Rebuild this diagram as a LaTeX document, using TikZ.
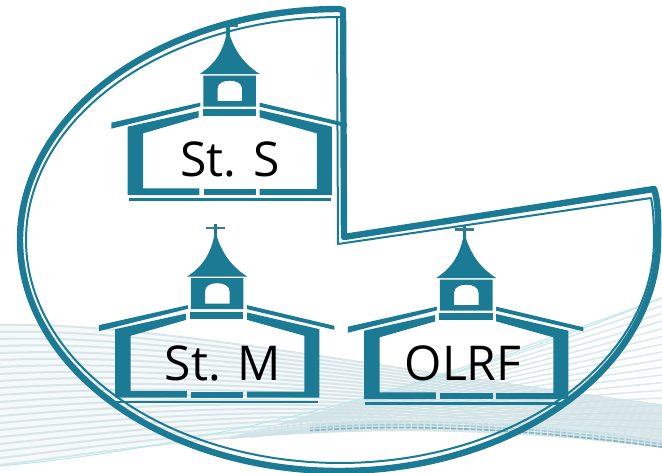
\documentclass[tikz,border=0pt]{standalone}
\usepackage{fontspec}
\setmainfont{Open Sans}
\definecolor{teal1}{HTML}{1B7A94}
\definecolor{wavepale}{HTML}{D8E6E9}
\definecolor{wavefill}{HTML}{F5F9F9}
\definecolor{waveb}{HTML}{D0E3E6}
\definecolor{wavecyan}{HTML}{B4EAEE}
\tikzset{
  thickline/.style={draw=teal1,line width=6.4pt,line join=round,line cap=round},
  thinline/.style={draw=teal1,line width=2pt,line join=round,line cap=round},
  wavea/.style={draw=wavepale,line width=2pt},
  wavebs/.style={draw=waveb,line width=1.5pt,opacity=.8},
  lab/.style={font=\fontsize{48}{52}\selectfont,text=black,inner sep=0pt,anchor=base}
}
\newcommand{\church}[2]{%
 \begin{scope}[shift={(#1,#2)}]
 \begin{scope}[x=.3333pt,y=-.3333pt]
  \fill[teal1] (-350,-232)--(-83,-292)--(-83,-281)--(-350,-214)--cycle;
  \fill[teal1] (-301,-220)--(-88,-267)--(-88,-248)--(-255,-200)--(-255,-35)--(-86,-35)--(-86,-15)--(-301,-15)--cycle;
  \fill[teal1] (-76,-272) rectangle (84,-252);
  \fill[teal1] (-73,-33) rectangle (84,-15);
  \fill[teal1] (95,-270)--(312,-220)--(312,-15)--(95,-15)--(95,-33)--(267,-33)--(267,-200)--(95,-248)--cycle;
  \fill[teal1] (95,-292)--(357,-230)--(357,-218)--(95,-280)--cycle;
  \fill[teal1] (-298,-5) rectangle (309,2);
  \fill[white] (-31,-297)--(-31,-335) .. controls (-31,-350) and (-15,-358) .. (5,-358) .. controls (25,-358) and (42,-350) .. (42,-335) --(42,-297)--cycle;
  \fill[teal1,even odd rule] (-74,-373) rectangle (84,-280)
     (-31,-297)--(-31,-335) .. controls (-31,-350) and (-15,-358) .. (5,-358) .. controls (25,-358) and (42,-350) .. (42,-335) --(42,-297)--cycle;
  \fill[teal1] (-85,-378) .. controls (-35,-410) and (-15,-450) .. (-5,-495) -- (5,-495)
     .. controls (20,-450) and (45,-410) .. (95,-378) --cycle;
  \fill[teal1] (-5,-535) rectangle (5,-490);
  \fill[teal1!70!gray] (-28,-527) rectangle (29,-520);
 \end{scope}
 \end{scope}}
\begin{document}
\begin{tikzpicture}[x=1pt,y=-1pt]
\useasboundingbox (0,0) rectangle (662,472);
\begin{scope}
\clip (0,0) rectangle (662,472);
\fill[wavefill] (0,325) .. controls (150,322) and (350,365) .. (662,405) -- (662,447)
   .. controls (350,408) and (120,447) .. (0,465) -- cycle;
\foreach \t in {0,0.05,...,1.01}{
  \pgfmathsetmacro{\ya}{325+140*\t}
  \pgfmathsetmacro{\yb}{322+125*\t}
  \pgfmathsetmacro{\yc}{365+43*\t}
  \pgfmathsetmacro{\yd}{405+42*\t}
  \draw[wavea] (0,\ya) .. controls (150,\yb) and (350,\yc) .. (662,\yd);
}
\foreach \t in {0,0.055,...,1.01}{
  \pgfmathsetmacro{\ya}{298+140*\t}
  \pgfmathsetmacro{\yb}{403+25*\t}
  \pgfmathsetmacro{\yc}{350+75*\t}
  \draw[wavebs] (230,438) .. controls (360,\yb) and (520,\yc) .. (662,\ya);
}
\foreach \k/\c in {0/22,3/18,6/15,9/12}{
  \draw[draw=teal1!\c!white,line width=1.6pt,dash pattern=on 5pt off 1.5pt]
    (250,{437-\k*.8}) .. controls (340,{424-\k}) and (480,{422-\k}) .. (662,{447-\k});
}
\begin{scope}
\clip (310,380) rectangle (662,472);
\foreach \k/\c in {0/55,3/38,6/25,9/16}{
  \draw[draw=teal1!\c!white,line width=1.6pt,dash pattern=on 5pt off 1.5pt]
    (250,{437-\k*.8}) .. controls (340,{424-\k}) and (480,{422-\k}) .. (662,{447-\k});
}
\end{scope}
\draw[wavecyan,line width=1pt] (0,466) .. controls (200,448) and (450,385) .. (661,298);
\end{scope}
\church{228}{200}
\church{215.5}{402.5}
\church{464.5}{404}
\draw[thickline] (654,189) -- (344,237) -- (343,10)
  -- plot[domain=90:360,samples=240] ({339+319*cos(\x)},{240-231*sin(\x)})
  .. controls (658.5,220) and (658,200) .. (654,189);
\draw[thinline] (651,198) -- (338,244) -- (337,17.5)
  -- plot[domain=90:360,samples=240] ({340+314*cos(\x)},{240-223*sin(\x)})
  .. controls (654,225) and (653.5,210) .. (651,198);
\node[lab] (sts) at (230,176) {St. S};
\node[lab] (stm) at (223,380) {St. M};
\node[lab] (olrf) at (463,380) {OLRF};
\end{tikzpicture}
\end{document}
